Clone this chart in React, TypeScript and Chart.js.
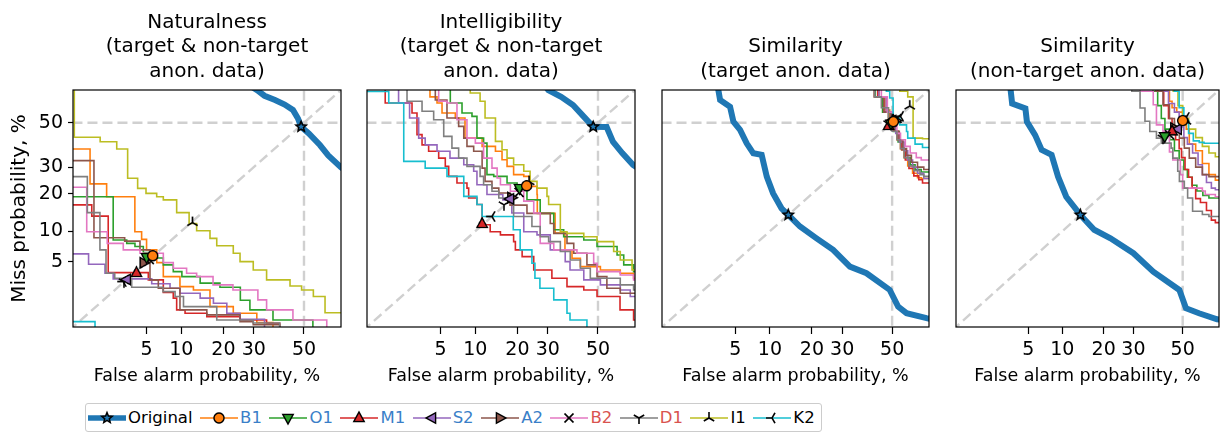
import React, { useEffect, useRef } from 'react';
import { Chart, registerables } from 'chart.js';

Chart.register(...registerables);

const FONT = "'DejaVu Sans', 'Liberation Sans', sans-serif";

// ---------------- axis / labels ----------------
const tickValues = [5, 10, 20, 30, 50];
const tickLabels = ['5', '10', '20', '30', '50'];
const axisMinPct = 0.79;
const axisMaxPct = 65.05;
const xAxisLabel = 'False alarm probability, %';
const yAxisLabel = 'Miss probability, %';

const panelTitles = [
  ['Naturalness', '(target & non-target', 'anon. data)'],
  ['Intelligibility', '(target & non-target', 'anon. data)'],
  ['Similarity', '(target anon. data)'],
  ['Similarity', '(non-target anon. data)'],
];

const systems = ['Original', 'B1', 'O1', 'M1', 'S2', 'A2', 'B2', 'D1', 'I1', 'K2'];
const lineColors = ['#1f77b4', '#ff7f0e', '#2ca02c', '#d62728', '#9467bd', '#8c564b', '#e377c2', '#7f7f7f', '#bcbd22', '#17becf'];
const markerKinds = ['star', 'circle', 'tri_down', 'tri_up', 'tri_left', 'tri_right', 'x', 'y_down', 'y_up', 'y_left'];
const legendTextColors = ['#000000', '#3a7fc8', '#3a7fc8', '#3a7fc8', '#3a7fc8', '#3a7fc8', '#d9534f', '#d9534f', '#000000', '#000000'];

// ---------------- data: [false alarm %, miss %] ----------------
// Panel 1: Naturalness
const natOriginal = [[25, 72], [28.5, 67], [31.2, 65], [34, 62.5], [38.1, 60.6], [42, 58.5], [45.4, 56], [47.5, 52], [48.8, 48.1], [52, 45], [56.6, 39.6], [60, 35], [65, 30], [70, 26]];
const natB1 = [[0.5, 37.8], [1.27, 23.5], [1.96, 19.1], [3.86, 9.9], [4.49, 8.4], [5.0, 6.65], [6.2, 4.92], [7.08, 3.45], [9.75, 2.64], [12.4, 2.41], [16.3, 1.49], [23, 1.22], [31.1, 0.91], [37.3, 0.6]];
const natO1 = [[0.5, 19.1], [2.31, 8.3], [3.2, 7.7], [3.87, 7.17], [4.66, 6.24], [5.38, 5.5], [7.08, 4.65], [8.6, 3.93], [10.1, 3.45], [13.9, 2.9], [19, 2.6], [25.3, 1.8], [28.6, 1.35], [37.3, 0.99], [53.7, 0.6]];
const natM1 = [[0.5, 16.6], [1.33, 13.5], [2.04, 3.83], [5.19, 3.17], [7.08, 2.24], [8.6, 1.91], [9.17, 1.35], [10.7, 1.22], [15.5, 1.1], [25.2, 0.99], [34.8, 0.89], [40, 0.6]];
const natS2 = [[0.5, 6.06], [1.22, 4.72], [1.88, 3.77], [2.31, 3.25], [5.58, 2.85], [8.08, 2.53], [9.75, 2.2], [13.9, 1.91], [17.2, 1.65], [21, 1.22], [25.2, 1.01], [34, 0.6]];
const natA2 = [[0.5, 32.7], [1.41, 8.7], [3.05, 8.1], [4.33, 6.65], [5.38, 3.17], [6.4, 2.53], [9.75, 1.35], [15.5, 1.16], [25.2, 0.94], [29.8, 0.85], [40, 0.6]];
const natB2 = [[0.5, 22.3], [1.16, 9.9], [1.99, 7.7], [2.95, 6.65], [4.33, 6.16], [7.08, 4.92], [8.6, 4.28], [11, 3.77], [13.1, 3.45], [17.1, 2.77], [22.9, 2.41], [31.5, 1.82], [34.8, 1.35], [45.4, 0.99], [59.4, 0.6]];
const natD1 = [[0.5, 26.2], [1.18, 14.4], [1.65, 6.65], [1.93, 3.77], [2.4, 3.31], [3.59, 2.6], [7.03, 2.3], [8.9, 2.0], [10.4, 1.49], [18.1, 0.99], [29.8, 0.9], [40, 0.6]];
const natI1 = [[0.5, 99], [0.82, 43.2], [1.66, 41.1], [2.52, 37.8], [3.27, 25.6], [4.11, 21.9], [4.94, 20.2], [6.19, 19.1], [7.08, 18.1], [9.17, 14.4], [11.5, 11.7], [13.1, 10.1], [16.3, 8.6], [18.1, 7.3], [23, 6.16], [25.2, 5.04], [29.8, 4.1], [34.8, 3.17], [44.2, 2.69], [49, 2.41], [53.9, 2.0], [58.7, 1.24], [70, 1.24]];
const natK2 = [[0.5, 0.94], [1.45, 0.5]];
const natMarkers = [[48.8, 48.1], [5.7, 5.8], [5.0, 5.6], [4.0, 3.8], [3.2, 3.2], [4.7, 4.9], [5.3, 5.3], [3.0, 3.0], [12.2, 11.9], [2.94, 3.03]];

// Panel 2: Intelligibility
const intOriginal = [[27, 70], [30.2, 65], [35, 62], [39.7, 58.3], [44, 53], [48, 48.1], [53.6, 48], [56.2, 41.1], [60, 36], [64.3, 30.9], [70, 27]];
const intB1 = [[0.5, 80], [3.96, 62], [4.63, 59.2], [5.16, 54.6], [6.8, 52.2], [8.23, 42.8], [11.3, 39], [14.2, 36.8], [15.8, 33.1], [17.1, 30.3], [18.9, 27], [21.9, 26.3], [23.9, 22.6], [26.2, 19.8], [26.3, 14.2], [32.7, 9.6], [36.5, 6.65], [39.3, 5.47], [42.7, 4.46], [51, 4.1], [59.2, 3.77], [64.5, 3.31], [70, 3.31]];
const intO1 = [[0.5, 80], [6.14, 59.2], [7.77, 54.6], [9.4, 53], [10.3, 42.8], [11.6, 40.5], [12.3, 27], [13.8, 26.3], [17.1, 23.8], [19.9, 22.6], [22.9, 18.1], [27.3, 14.2], [32.2, 10.3], [36, 8.9], [44.1, 8.3], [49.6, 7.17], [57.9, 5.9], [60.6, 4.65], [64.5, 3.93], [70, 3.93]];
const intM1 = [[0.5, 80], [1.31, 59.2], [2.6, 54.6], [2.93, 44.4], [3.3, 39.7], [3.84, 36.8], [4.8, 33.8], [5.53, 30.3], [5.94, 26.3], [7.03, 23.8], [8.55, 22], [8.83, 18.7], [10.3, 16.7], [11.3, 11.4], [13, 9.9], [15.4, 9.25], [18.9, 8.0], [19.4, 6.65], [21.4, 5.68], [25.1, 4.1], [31.5, 3.31], [37.3, 2.64], [44.1, 2.41], [49.6, 2.0], [59.1, 1.35], [64.5, 0.99], [70, 0.7]];
const intS2 = [[0.5, 80], [1.86, 59.2], [2.45, 52.2], [3.05, 42.8], [3.55, 39.7], [4.63, 36.8], [6.1, 33.8], [8.04, 31], [9.7, 28.3], [10.3, 23.2], [12.3, 19.8], [16, 18.1], [18.4, 14.3], [21.9, 9.9], [26.2, 9.25], [30.9, 6.65], [36.6, 5.04], [38.5, 4.1], [44.1, 3.17], [51, 2.77], [59.2, 2.41], [63.2, 2.0], [70, 1.82]];
const intA2 = [[0.5, 80], [4.46, 60.6], [5.73, 52.2], [7.27, 48.3], [8.04, 42.8], [8.55, 39], [9.7, 36.8], [11.3, 29.6], [11.9, 24.4], [13.4, 22], [15, 20.3], [17.9, 16.5], [22.9, 14.2], [30.9, 11.7], [32.2, 9.56], [37.3, 7.7], [40, 6.16], [45.4, 4.65], [49.6, 3.45], [53.7, 2.53], [59.2, 2.2], [70, 2.2]];
const intB2 = [[0.5, 80], [4.8, 60], [5.73, 59.2], [7.03, 51.4], [8.55, 42.8], [10, 40.5], [11.6, 33.8], [13.4, 29.6], [14.6, 25.7], [15.4, 23.2], [18, 20.9], [21.9, 17.7], [25.1, 14.3], [27.3, 7.7], [32.2, 6.65], [41.3, 6.16], [48.2, 4.85], [49.6, 3.93], [59.2, 3.6], [64.5, 3.17], [70, 3.17]];
const intD1 = [[0.5, 80], [2.3, 60], [3.3, 55.4], [4.3, 51.4], [5.35, 43.6], [6.35, 38.2], [7.27, 33.8], [8.55, 30.3], [10.9, 26.3], [11.6, 23.2], [13.4, 20.9], [15, 18.7], [18.9, 13.4], [24.5, 11], [27.3, 8.9], [30.3, 8.0], [34.7, 6.4], [38.6, 5.25], [42.7, 4.28], [46.8, 3.31], [59.2, 2.77], [64.5, 2.41], [70, 2.41]];
const intI1 = [[0.5, 80], [9.1, 63.7], [10.9, 60], [11.9, 52.2], [14.2, 41.3], [15.8, 37.5], [17.1, 33.8], [18.9, 31], [21.9, 28.3], [23.9, 24.4], [26.2, 22], [29.7, 19.2], [30.3, 16.7], [34.7, 9.9], [37.3, 9.56], [44.1, 8.9], [49.6, 8.0], [56.5, 6.4], [59.2, 5.25], [63.9, 4.1], [70, 4.1]];
const intK2 = [[0.5, 64.4], [1.44, 59.2], [2.12, 32.4], [3.55, 29.6], [5.73, 26.3], [8.04, 19.2], [10.3, 16.7], [11.3, 13.4], [18.8, 10.3], [20.8, 6.65], [24.5, 4.85], [25.5, 3.31], [27.2, 2.53], [32.2, 1.82], [37.3, 1.22], [38.5, 0.99], [45.4, 0.6]];
const intMarkers = [[48, 48.1], [22.8, 22.8], [20.6, 22], [11.3, 11.6], [17.9, 18.4], [18.3, 18.8], [20.5, 20.5], [16.3, 16.6], [23.6, 24.3], [13.4, 13.4]];

// Panel 3: Similarity (target anon. data)
const stOriginal = [[3.2, 75], [3.42, 65], [3.56, 60.6], [4.46, 57.5], [4.8, 50.5], [5.54, 46.6], [6.36, 40.4], [7.27, 35.9], [8.56, 35.2], [9.43, 26.2], [10.6, 20.2], [12.3, 15.6], [13.8, 13.8], [16.7, 11], [21.4, 8.6], [26.8, 6.65], [32.9, 4.46], [39.4, 3.77], [49, 2.41], [52.5, 1.49], [56, 1.22], [64.1, 1.05], [70, 0.95]];
const stB1 = [[40, 80], [44.5, 62], [47, 56], [49, 50], [50.5, 46], [52, 42], [53.5, 38], [55, 34], [56.5, 30.5], [58.5, 27.5], [60.5, 25.8], [62, 25.5], [70, 25.5]];
const stO1 = [[40, 80], [43, 62], [46, 55], [48.5, 50], [50.5, 45.9], [52.5, 41], [54, 37.5], [55.5, 34], [57.5, 31], [59.5, 29], [62, 28], [70, 27.4]];
const stM1 = [[40, 80], [44, 62], [46.5, 55], [48.5, 50], [50.5, 46], [52.5, 42], [54, 37.5], [55.5, 33], [57, 29.5], [59, 26.5], [61, 25], [62.5, 23.8], [70, 23.8]];
const stS2 = [[40, 80], [44.5, 62], [47.5, 55], [49.5, 50], [51.5, 45], [53, 41], [55, 37], [56.5, 33], [58.5, 30], [60.5, 27.5], [63, 25.5], [70, 25.2]];
const stA2 = [[40, 80], [42.5, 62], [46.5, 55], [49.5, 50], [51, 46], [53, 42], [54.5, 38], [56, 35], [58, 32], [60.5, 30], [63, 29], [70, 28.9]];
const stB2 = [[40, 80], [45.5, 62], [48, 55], [50.4, 49], [52, 45], [53.5, 42], [55.5, 39], [57.5, 36], [60, 34], [62, 33], [70, 33]];
const stD1 = [[40, 80], [42.8, 62], [45.5, 57], [48.5, 50], [50, 46], [52, 42], [53.5, 38], [55, 34], [57, 30.5], [59, 28.5], [61.5, 27], [63, 26.3], [70, 26.2]];
const stI1 = [[45, 80], [53.2, 64.5], [56.5, 62], [58.7, 42.8], [62.5, 42.5], [70, 42.5]];
const stK2 = [[40, 80], [47.6, 64.5], [49, 61.5], [50.4, 52.2], [53.2, 49], [56, 45.9], [56.5, 42.8], [59.5, 40], [62.5, 38.5], [70, 38]];
const stMarkers = [[13.8, 13.8], [50.5, 50.5], [49.5, 49.5], [48.5, 48.5], [50, 51], [51.5, 51], [52, 52], [48.5, 49.5], [57.3, 57.8], [53.5, 53]];

// Panel 4: Similarity (non-target anon. data)
const snOriginal = [[3.2, 75], [3.35, 65], [3.47, 59], [4.7, 56.7], [4.86, 50.5], [5.81, 44.2], [6.66, 37.4], [8.14, 35.2], [9.23, 26.2], [10.75, 19.1], [13.8, 13.8], [17.3, 10.3], [22.1, 8.6], [30, 6.16], [37.7, 3.93], [48.6, 2.41], [51.4, 1.42], [56.9, 1.22], [64.3, 1.01], [70, 0.95]];
const snB1 = [[35, 80], [42.4, 64.5], [44.4, 60], [45.5, 57], [47.5, 55], [50, 51], [51.5, 47], [52.8, 40], [55.5, 37], [58.3, 31.5], [61, 27], [63.6, 24.9], [70, 24.9]];
const snO1 = [[30, 80], [37.5, 64.5], [39.5, 58], [41, 52], [42.5, 47], [44.5, 42], [46.5, 37], [48.5, 33], [50.5, 29], [52, 26], [54, 23], [56, 21], [58.5, 19.5], [61, 18.7], [70, 18.7]];
const snM1 = [[30, 80], [39.5, 64.5], [42, 58], [44, 52], [45.5, 47], [47, 42], [48.5, 38], [49.5, 34], [51, 29], [52.5, 26], [54, 22], [55.5, 18.5], [57.5, 17.3], [60, 15], [62, 12.5], [63.6, 11.9], [70, 11.9]];
const snS2 = [[33, 80], [41, 64.5], [44, 59], [46.5, 55], [48.5, 48], [50.5, 43], [52, 40], [54.2, 36], [56.5, 31], [58.3, 27], [60, 24], [62, 22], [63.6, 21.4], [70, 21.4]];
const snA2 = [[30, 80], [38.7, 64.5], [41.7, 58.4], [44.4, 52], [46.5, 47], [48.6, 42.8], [50.7, 38.2], [52.8, 33.8], [55.5, 30], [58.3, 27], [61, 26.2], [70, 26.2]];
const snB2 = [[28, 80], [32.5, 64.5], [37.7, 58.4], [39, 49], [41.7, 46], [44.4, 36.5], [45.8, 33], [49, 27], [50, 22], [58.3, 21], [59.5, 19.8], [63.6, 19.1], [70, 19.1]];
const snD1 = [[20, 80], [29.4, 64.5], [32.5, 56.9], [34.4, 50.7], [36.3, 45.9], [39, 42.8], [41, 40.5], [45.1, 38.2], [45.8, 33.8], [47.9, 28.3], [48.6, 24.4], [50.7, 22], [52.1, 18.7], [54.2, 14.8], [58.3, 13.9], [61, 13.4], [70, 13.4]];
const snI1 = [[38, 80], [46, 64.5], [48, 58], [50, 52], [52.5, 47], [55.5, 43], [58.3, 39], [61, 36], [63.6, 34.4], [70, 34.4]];
const snK2 = [[40, 80], [46.5, 64.5], [48.5, 57], [50.5, 51], [52.5, 45], [54.5, 41.5], [57, 40.8], [59, 40.4], [70, 40.4]];
const snMarkers = [[13.8, 13.8], [50, 51], [42.4, 43.6], [45.5, 46], [47.9, 47], [46.4, 47.5], [44.4, 44.4], [41.7, 42.8], [51.4, 50.7], [51.5, 52.5]];

const panelCurves = [
  [natOriginal, natB1, natO1, natM1, natS2, natA2, natB2, natD1, natI1, natK2],
  [intOriginal, intB1, intO1, intM1, intS2, intA2, intB2, intD1, intI1, intK2],
  [stOriginal, stB1, stO1, stM1, stS2, stA2, stB2, stD1, stI1, stK2],
  [snOriginal, snB1, snO1, snM1, snS2, snA2, snB2, snD1, snI1, snK2],
];
const panelMarkers = [natMarkers, intMarkers, stMarkers, snMarkers];

// ---------------- helpers ----------------
function probit(p: number): number {
  const a = [-3.969683028665376e1, 2.209460984245205e2, -2.759285104469687e2, 1.38357751867269e2, -3.066479806614716e1, 2.506628277459239];
  const b = [-5.447609879822406e1, 1.615858368580409e2, -1.556989798598866e2, 6.680131188771972e1, -1.328068155288572e1];
  const c = [-7.784894002430293e-3, -3.223964580411365e-1, -2.400758277161838, -2.549732539343734, 4.374664141464968, 2.938163982698783];
  const d = [7.784695709041462e-3, 3.224671290700398e-1, 2.445134137142996, 3.754408661907416];
  const pl = 0.02425;
  if (p < pl) {
    const q = Math.sqrt(-2 * Math.log(p));
    return (((((c[0] * q + c[1]) * q + c[2]) * q + c[3]) * q + c[4]) * q + c[5]) / ((((d[0] * q + d[1]) * q + d[2]) * q + d[3]) * q + 1);
  }
  if (p <= 1 - pl) {
    const q = p - 0.5;
    const r = q * q;
    return ((((((a[0] * r + a[1]) * r + a[2]) * r + a[3]) * r + a[4]) * r + a[5]) * q) / (((((b[0] * r + b[1]) * r + b[2]) * r + b[3]) * r + b[4]) * r + 1);
  }
  const q = Math.sqrt(-2 * Math.log(1 - p));
  return -(((((c[0] * q + c[1]) * q + c[2]) * q + c[3]) * q + c[4]) * q + c[5]) / ((((d[0] * q + d[1]) * q + d[2]) * q + d[3]) * q + 1);
}
const toXY = (pts: number[][]) => pts.map(([fa, miss]) => ({ x: probit(fa / 100), y: probit(miss / 100) }));

function drawMarker(g: CanvasRenderingContext2D, kind: string, fill: string, x: number, y: number) {
  g.save();
  g.translate(x, y);
  g.strokeStyle = '#000';
  g.fillStyle = fill;
  g.lineWidth = 1.4;
  g.lineJoin = 'miter';
  const r = 6;
  const poly = (pts: number[][]) => {
    g.beginPath();
    pts.forEach(([px, py], i) => (i ? g.lineTo(px, py) : g.moveTo(px, py)));
    g.closePath();
    g.fill();
    g.stroke();
  };
  const prongs = (angles: number[]) => {
    g.beginPath();
    angles.forEach((ang) => {
      g.moveTo(0, 0);
      g.lineTo(r * Math.cos(ang), r * Math.sin(ang));
    });
    g.lineWidth = 1.6;
    g.stroke();
  };
  const D = Math.PI / 180;
  switch (kind) {
    case 'star': {
      const pts: number[][] = [];
      for (let i = 0; i < 10; i++) {
        const rr = i % 2 === 0 ? 5.5 : 2.4;
        const ang = -Math.PI / 2 + (i * Math.PI) / 5;
        pts.push([rr * Math.cos(ang), rr * Math.sin(ang)]);
      }
      g.lineWidth = 1.5;
      poly(pts);
      break;
    }
    case 'circle':
      g.beginPath();
      g.arc(0, 0, 5, 0, Math.PI * 2);
      g.fill();
      g.stroke();
      break;
    case 'tri_up':
      poly([[0, -r], [-r * 0.87, r * 0.6], [r * 0.87, r * 0.6]]);
      break;
    case 'tri_down':
      poly([[0, r], [-r * 0.87, -r * 0.6], [r * 0.87, -r * 0.6]]);
      break;
    case 'tri_left':
      poly([[-r, 0], [r * 0.6, -r * 0.87], [r * 0.6, r * 0.87]]);
      break;
    case 'tri_right':
      poly([[r, 0], [-r * 0.6, -r * 0.87], [-r * 0.6, r * 0.87]]);
      break;
    case 'x':
      g.beginPath();
      g.moveTo(-4.5, -4.5);
      g.lineTo(4.5, 4.5);
      g.moveTo(-4.5, 4.5);
      g.lineTo(4.5, -4.5);
      g.lineWidth = 1.6;
      g.stroke();
      break;
    case 'y_down':
      prongs([90 * D, 210 * D, 330 * D]);
      break;
    case 'y_up':
      prongs([270 * D, 30 * D, 150 * D]);
      break;
    case 'y_left':
      prongs([180 * D, 300 * D, 60 * D]);
      break;
  }
  g.restore();
}

// marker image: drawn at 3x resolution, displayed at 18x18
function makeMarkerImage(kind: string, fill: string): HTMLImageElement {
  const S = 18;
  const R = 3;
  const c = document.createElement('canvas');
  c.width = S * R;
  c.height = S * R;
  const g = c.getContext('2d')!;
  g.scale(R, R);
  drawMarker(g, kind, fill, S / 2, S / 2);
  const img = new Image(S, S);
  img.src = c.toDataURL();
  return img;
}

const framePlugin = {
  id: 'frame',
  afterDraw(chart: any) {
    const { ctx, chartArea: a } = chart;
    ctx.save();
    ctx.strokeStyle = '#000';
    ctx.lineWidth = 1.2;
    ctx.strokeRect(a.left, a.top, a.right - a.left, a.bottom - a.top);
    ctx.restore();
  },
};

// ---------------- layout ----------------
const CANVAS_H = 395;
const PLOT_TOP = 90;
const PLOT_BOTTOM = 327;
const TITLE_SIZE = 20;
const TITLE_LH = 24.5;
const TITLE_PAD_TOP = 10.5;
const panelBoxes = [
  { left: 0, width: 348, padL: 0, padR: 7 },
  { left: 348, width: 294, padL: 19, padR: 7 },
  { left: 642, width: 294, padL: 20, padR: 7 },
  { left: 936, width: 290, padL: 20, padR: 3 },
];

function Panel({ index }: { index: number }) {
  const ref = useRef<HTMLCanvasElement>(null);
  useEffect(() => {
    const box = panelBoxes[index];
    const titleLines = panelTitles[index];
    const titleTop = TITLE_PAD_TOP + (3 - titleLines.length) * TITLE_LH;
    const titleBottom = PLOT_TOP - 3 * TITLE_LH - TITLE_PAD_TOP;
    const curves = panelCurves[index];
    const markers = panelMarkers[index];
    const lo = probit(0.005);
    const hi = probit(0.8);
    const refStyle = { borderColor: '#d0d0d0', borderWidth: 2.4, borderDash: [10, 5], pointRadius: 0, fill: false, order: 100, clip: 0 };
    const datasets: any[] = [
      { type: 'line', data: [{ x: lo, y: lo }, { x: hi, y: hi }], ...refStyle },
      { type: 'line', data: [{ x: lo, y: 0 }, { x: hi, y: 0 }], ...refStyle },
      { type: 'line', data: [{ x: 0, y: lo }, { x: 0, y: hi }], ...refStyle },
    ];
    curves.forEach((pts, i) => {
      datasets.push({
        type: 'line',
        data: toXY(pts),
        borderColor: lineColors[i],
        borderWidth: i === 0 ? 6 : 1.6,
        stepped: i === 0 ? false : true,
        tension: 0,
        pointRadius: 0,
        fill: false,
        order: i === 0 ? 20 : 10 - i,
        clip: 0,
      });
    });
    const imgs = markers.map((_, i) => makeMarkerImage(markerKinds[i], lineColors[i]));
    markers.forEach((pt, i) => {
      datasets.push({
        type: 'scatter',
        data: toXY([pt]),
        pointStyle: imgs[i],
        pointRadius: 6,
        showLine: false,
        order: 0,
        clip: false,
      });
    });
    const tickFont = { family: FONT, size: 19 };
    const chart = new Chart(ref.current!, {
      type: 'line',
      data: { datasets },
      options: {
        animation: false,
        responsive: false,
        maintainAspectRatio: false,
        devicePixelRatio: 1,
        events: [],
        layout: { padding: { left: box.padL, right: box.padR, top: 0, bottom: 0 } },
        plugins: {
          legend: { display: false },
          tooltip: { enabled: false },
          title: {
            display: true,
            fullSize: false,
            text: titleLines,
            color: '#000',
            font: { family: FONT, size: TITLE_SIZE, weight: 'normal', lineHeight: TITLE_LH / TITLE_SIZE },
            padding: { top: titleTop, bottom: titleBottom },
          },
        },
        scales: {
          x: {
            type: 'linear',
            min: probit(axisMinPct / 100),
            max: probit(axisMaxPct / 100),
            afterBuildTicks: (s: any) => {
              s.ticks = tickValues.map((v) => ({ value: probit(v / 100) }));
            },
            afterFit: (s: any) => {
              s.height = CANVAS_H - PLOT_BOTTOM;
            },
            ticks: { callback: (_v: any, i: number) => tickLabels[i], font: tickFont, color: '#000', padding: 5, autoSkip: false, maxRotation: 0 },
            grid: { display: true, drawOnChartArea: false, drawTicks: true, tickLength: 7, tickColor: '#000', tickWidth: 1.2 },
            border: { display: false },
            title: { display: true, text: xAxisLabel, color: '#000', font: { family: FONT, size: 17.5 }, padding: { top: 0, bottom: 8.5 } },
          },
          y: {
            type: 'linear',
            display: index === 0,
            min: probit(axisMinPct / 100),
            max: probit(axisMaxPct / 100),
            afterBuildTicks: (s: any) => {
              s.ticks = tickValues.map((v) => ({ value: probit(v / 100) }));
            },
            afterFit: (s: any) => {
              if (index === 0) s.width = 73;
            },
            ticks: { callback: (_v: any, i: number) => tickLabels[i], font: tickFont, color: '#000', padding: 5, autoSkip: false },
            grid: { display: true, drawOnChartArea: false, drawTicks: true, tickLength: 5, tickColor: '#000', tickWidth: 1.2 },
            border: { display: false },
            title: { display: true, text: yAxisLabel, color: '#000', font: { family: FONT, size: 20 }, padding: { top: 8, bottom: 0 } },
          },
        },
      } as any,
      plugins: [framePlugin],
    });
    let alive = true;
    Promise.all(imgs.map((im) => im.decode().catch(() => undefined))).then(() => {
      if (alive) chart.update('none');
    });
    return () => {
      alive = false;
      chart.destroy();
    };
  }, [index]);
  const box = panelBoxes[index];
  return (
    <canvas
      ref={ref}
      width={box.width}
      height={CANVAS_H}
      style={{ position: 'absolute', left: box.left, top: 0, width: box.width, height: CANVAS_H }}
    />
  );
}

function LegendIcon({ index }: { index: number }) {
  const ref = useRef<HTMLCanvasElement>(null);
  useEffect(() => {
    const g = ref.current!.getContext('2d')!;
    g.setTransform(2, 0, 0, 2, 0, 0);
    g.clearRect(0, 0, 38, 22);
    g.strokeStyle = lineColors[index];
    g.lineWidth = index === 0 ? 5.5 : 1.6;
    g.beginPath();
    g.moveTo(0, 11);
    g.lineTo(38, 11);
    g.stroke();
    drawMarker(g, markerKinds[index], lineColors[index], 19, 11);
  }, [index]);
  return <canvas ref={ref} width={38 * 2} height={22 * 2} style={{ width: 38, height: 22, display: 'block' }} />;
}

function Legend() {
  return (
    <div
      style={{
        position: 'absolute',
        left: 85,
        top: 403,
        height: 29,
        boxSizing: 'border-box',
        border: '1px solid #cccccc',
        borderRadius: 3,
        display: 'flex',
        alignItems: 'center',
        padding: '0 6px 0 2px',
        fontFamily: FONT,
        fontSize: 16.5,
        background: '#fff',
      }}
    >
      {systems.map((name, i) => (
        <div key={name} style={{ display: 'flex', alignItems: 'center', marginRight: i === systems.length - 1 ? 0 : 7.5 }}>
          <LegendIcon index={i} />
          <span style={{ color: legendTextColors[i], marginLeft: 2, lineHeight: '22px', whiteSpace: 'nowrap' }}>{name}</span>
        </div>
      ))}
    </div>
  );
}

export default function App() {
  return (
    <div style={{ position: 'fixed', left: 0, top: 0, width: 1226, height: 434, background: '#fff', overflow: 'hidden' }}>
      {panelBoxes.map((_, i) => (
        <Panel key={i} index={i} />
      ))}
      <Legend />
    </div>
  );
}
